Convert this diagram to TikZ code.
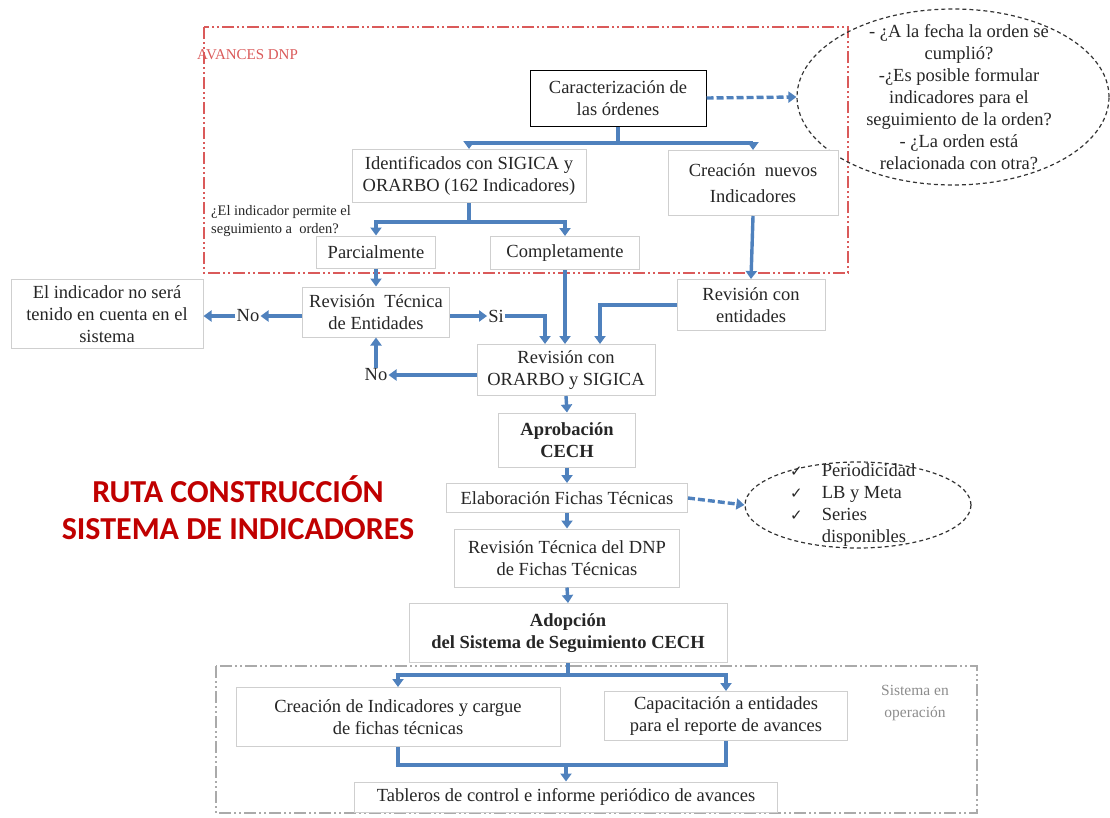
\documentclass[tikz,border=0pt]{standalone}
\usepackage{fontspec}
\setmainfont{Liberation Serif}
\newfontfamily\titlefont{Carlito}
\newfontfamily\symfont{DejaVu Sans}
\usetikzlibrary{arrows.meta,calc,shapes.geometric}
\definecolor{arrblue}{HTML}{4F81BD}
\definecolor{boxgray}{HTML}{CFCFCF}
\definecolor{framered}{HTML}{DA5A5A}
\definecolor{titlered}{HTML}{C00000}
\definecolor{framegray}{HTML}{AAAAAA}
\begin{document}
\begin{tikzpicture}[x=1pt,y=-1pt,
  every node/.style={font=\fontsize{18.5}{22}\selectfont, text=black!85},
  box/.style={draw=boxgray, line width=1pt, fill=white, align=center, inner sep=2pt},
  ln/.style={draw=arrblue, line width=3.4pt},
  arr/.style={ln, -{Triangle[length=8pt,width=11pt]}},
  darr/.style={arr, dash pattern=on 7pt off 3pt},
  lbl/.style={align=center, inner sep=1pt},
  cloud/.style={ellipse, draw=black!80, line width=1.2pt, dash pattern=on 4pt off 3pt, inner sep=0pt},
  frameline/.style={line width=2.2pt, dash pattern=on 12pt off 3pt on 2pt off 3pt on 2pt off 3pt}]
\useasboundingbox (0,0) rectangle (1110,817);

% frames
\draw[frameline, draw=framered] (204,27) rectangle (848,273);
\draw[frameline, draw=framegray, line width=1.3pt] (216,666) rectangle (977,813);
\node[anchor=west, text=framered, font=\fontsize{15}{18}\selectfont, inner sep=0pt] (avan) at (197,55) {AVANCES DNP};
\node[lbl, text=black!45, font=\fontsize{15.5}{22}\selectfont] (sisop) at (915,703) {Sistema en\\operación};

% question cloud
\node[cloud, minimum width=312pt, minimum height=176pt] (q1) at (953,97) {};
\node[lbl] (q1t) at (959,97) {- ¿A la fecha la orden se\\cumplió?\\-¿Es posible formular\\indicadores para el\\seguimiento de la orden?\\- ¿La orden está\\relacionada con otra?};

% boxes
\node[box, draw=black, minimum width=176pt, minimum height=56pt] (car) at (618,98) {Caracterización de\\las órdenes};
\node[box, minimum width=234pt, minimum height=53pt] (ide) at (469,176) {Identificados con SIGICA y\\ORARBO (162 Indicadores)};
\node[box, minimum width=170pt, minimum height=65pt, font=\fontsize{18.5}{26}\selectfont] (cre) at (753,183) {Creación \ nuevos\\Indicadores};
\node[lbl, anchor=west, align=left, font=\fontsize{14.5}{18}\selectfont] (preg) at (210,221) {¿El indicador permite el\\seguimiento a \ orden?};
\node[box, minimum width=119pt, minimum height=32pt] (par) at (376,252) {Parcialmente};
\node[box, minimum width=149pt, minimum height=33pt] (com) at (565,253) {Completamente};
\node[box, minimum width=147pt, minimum height=50pt] (rte) at (376,312) {Revisión \ Técnica\\de Entidades};
\node[box, minimum width=192pt, minimum height=69pt] (ind) at (107,314) {El indicador no será\\tenido en cuenta en el\\sistema};
\node[lbl] (no1) at (248,316) {No};
\node[lbl] (si) at (496,316) {Si};
\node[box, minimum width=148pt, minimum height=51pt] (rce) at (751,305) {Revisión con\\entidades};
\node[box, minimum width=178pt, minimum height=51pt] (ror) at (566,370) {Revisión con\\ORARBO y SIGICA};
\node[lbl] (no2) at (376,375) {No};
\node[box, minimum width=137pt, minimum height=54pt, font=\fontsize{18.5}{22}\selectfont\bfseries] (apr) at (567,440) {Aprobación\\CECH};
\node[box, minimum width=241pt, minimum height=29pt] (ela) at (567,498) {Elaboración Fichas Técnicas};
\node[box, minimum width=225pt, minimum height=58pt] (rtd) at (567,558) {Revisión Técnica del DNP\\de Fichas Técnicas};
\node[box, minimum width=318pt, minimum height=59pt, font=\fontsize{18.5}{22}\selectfont\bfseries] (ado) at (568,633) {Adopción\\del Sistema de Seguimiento CECH};
\node[box, minimum width=324pt, minimum height=59pt] (cin) at (398,717) {Creación de Indicadores y cargue\\de fichas técnicas};
\node[box, minimum width=243pt, minimum height=49pt] (cap) at (726,716) {Capacitación a entidades\\para el reporte de avances};
\node[box, minimum width=423pt, minimum height=30pt] (tab) at (566,797) {Tableros de control e informe periódico de avances};

% second cloud
\node[cloud, minimum width=226pt, minimum height=86pt] (q2) at (858,505) {};
\node[anchor=west, inner sep=0pt] (q2t) at (790,505.5) {\begin{tabular}{@{}l@{\hspace{19pt}}l@{}}
{\symfont\fontsize{15}{22.5}\selectfont ✓} & Periodicidad\\
{\symfont\fontsize{15}{22.5}\selectfont ✓} & LB y Meta\\
{\symfont\fontsize{15}{22.5}\selectfont ✓} & Series\\
 & disponibles\end{tabular}};

% title
\node[lbl, text=titlered, font=\titlefont\bfseries\fontsize{32}{37}\selectfont] (title) at (238,508) {RUTA CONSTRUCCIÓN\\SISTEMA DE INDICADORES};

% connectors
\coordinate (j1) at (618,143);
\draw[ln] (car.south) -- (j1);
\draw[arr] (j1) -| (ide.north);
\draw[arr] (j1) -| (cre.north);
\draw[darr] (car.east) -- (q1.west);

\coordinate (j2) at (469,222);
\draw[ln] (ide.south) -- (j2);
\draw[arr] (j2) -| (par.north);
\draw[arr] (j2) -| (com.north);

\draw[arr] (par.south) -- (rte.north);
\draw[arr] (rte.west |- no1.east) -- (no1.east);
\draw[arr] (no1.west) -- (no1.west -| ind.east);
\draw[arr] (rte.east |- si.west) -- (si.west);
\draw[arr] (si.east) -| ([xshift=-21pt]ror.north);
\draw[arr] (com.south) -- (com.south |- ror.north);
\draw[arr] (cre.south) -- (rce.north);
\draw[arr] (rce.west) -| ([xshift=34pt]ror.north);
\draw[arr] (ror.west |- no2.east) -- (no2.east);
\draw[arr] (no2.north) -- (rte.south);
\draw[arr] (ror.south) -- (apr.north);
\draw[arr] (apr.south) -- (ela.north);
\draw[darr] (ela.east) -- (q2.west);
\draw[arr] (ela.south) -- (rtd.north);
\draw[arr] (rtd.south) -- (ado.north);

\coordinate (j3) at (568,675);
\draw[ln] (ado.south) -- (j3);
\draw[arr] (j3) -| (cin.north);
\draw[arr] (j3) -| (cap.north);
\coordinate (j4) at (566,765);
\draw[ln] (cin.south) |- (j4);
\draw[ln] (cap.south) |- (j4);
\draw[arr] (j4) -- (tab.north);
\end{tikzpicture}
\end{document}
